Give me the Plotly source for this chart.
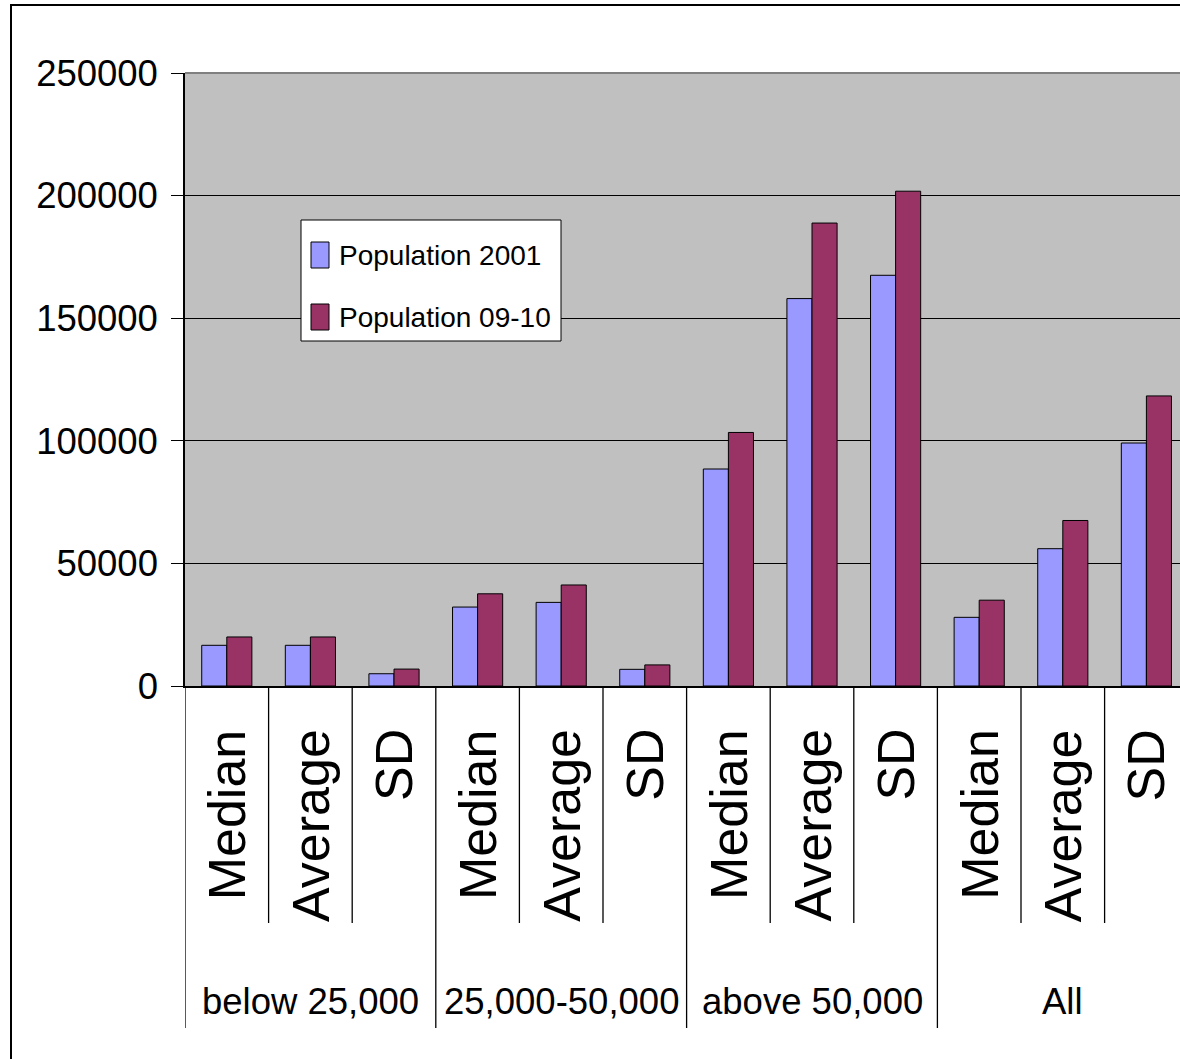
import plotly.graph_objects as go

# Population statistics by town size class
stats = ["Median", "Average", "SD"]
groups = ["below 25,000", "25,000-50,000", "above 50,000", "All"]
pop_2001 = [16600, 16600, 5000, 32200, 34100, 6800, 88500, 158000, 167500, 28000, 56000, 99100]
pop_0910 = [20000, 20000, 6900, 37600, 41200, 8600, 103400, 188800, 201800, 35000, 67500, 118300]
y_ticks = [0, 50000, 100000, 150000, 200000, 250000]

W, H = 1180, 1059
L, T, B = 185, 73, 686          # plot area edges in pixels
PW, PH = W - L, B - T
SLOT = 83.6                      # pixel width of one category slot

def px(xp):
    return (xp - L) / PW

def py(yp):
    return (B - yp) / PH

FONT = "Liberation Sans, Arial"

labels = [s for _ in groups for s in stats]
xs = list(range(len(labels)))

fig = go.Figure()
fig.add_bar(x=xs, y=pop_2001, name="Population 2001",
            marker=dict(color="#9999FF", line=dict(color="black", width=1)), showlegend=False)
fig.add_bar(x=xs, y=pop_0910, name="Population 09-10",
            marker=dict(color="#993366", line=dict(color="black", width=1)), showlegend=False)

shapes = []
annotations = []

# outer chart frame
shapes.append(dict(type="rect", xref="paper", yref="paper",
                   x0=px(11), x1=px(1300), y0=py(1200), y1=py(5),
                   line=dict(color="black", width=2), layer="below"))
# plot-area top border
shapes.append(dict(type="line", xref="paper", yref="paper",
                   x0=0, x1=1, y0=1, y1=1, line=dict(color="#808080", width=2)))

# category dividers below the axis
for k in range(len(labels) + 1):
    long_ = k % 3 == 0
    yb = 1028 if long_ else 923
    shapes.append(dict(type="line", xref="x", yref="paper",
                       x0=k - 0.5, x1=k - 0.5, y0=0, y1=py(yb),
                       line=dict(color="black", width=1.3)))

# rotated statistic labels
for i, lab in enumerate(labels):
    annotations.append(dict(x=i, xref="x", y=py(727), yref="paper",
                            text=lab, textangle=-90, showarrow=False,
                            xanchor="center", yanchor="top",
                            font=dict(family=FONT, size=52, color="black")))

# group labels
for g, name in enumerate(groups):
    annotations.append(dict(x=3 * g + 1, xref="x", y=py(1001), yref="paper",
                            text=name, showarrow=False,
                            xanchor="center", yanchor="middle",
                            font=dict(family=FONT, size=36.5, color="black")))

# legend box
shapes.append(dict(type="rect", xref="paper", yref="paper",
                   x0=px(301), x1=px(561), y0=py(341), y1=py(220),
                   fillcolor="white", line=dict(color="black", width=1), layer="above"))
legend_items = [("Population 2001", "#9999FF", 255), ("Population 09-10", "#993366", 317)]
for name, col, yc in legend_items:
    shapes.append(dict(type="rect", xref="paper", yref="paper",
                       x0=px(311), x1=px(329), y0=py(yc + 13), y1=py(yc - 13),
                       fillcolor=col, line=dict(color="black", width=1), layer="above"))
    annotations.append(dict(x=px(337), xref="paper", y=py(yc), yref="paper",
                            text=name, showarrow=False, xanchor="left", yanchor="middle",
                            font=dict(family=FONT, size=28, color="black")))

fig.update_layout(
    width=W, height=H,
    margin=dict(l=L, r=0, t=T, b=H - B, pad=0),
    paper_bgcolor="white", plot_bgcolor="#C0C0C0",
    barmode="group", bargap=0.4, bargroupgap=0,
    shapes=shapes, annotations=annotations,
    showlegend=False,
)
fig.update_xaxes(range=[-0.5, -0.5 + PW / SLOT], showticklabels=False, ticks="",
                 showgrid=False, zeroline=False,
                 showline=True, linecolor="black", linewidth=1.5)
fig.update_yaxes(range=[0, 250000], tickvals=y_ticks, ticktext=[str(v) for v in y_ticks],
                 ticks="outside", ticklen=12, tickcolor="black", tickwidth=1,
                 showgrid=True, gridcolor="black", gridwidth=1,
                 zeroline=False, showline=True, linecolor="black", linewidth=1.5,
                 tickfont=dict(family=FONT, size=36.5, color="black"),
                 ticklabelstandoff=6)

fig.write_html("out.html")
